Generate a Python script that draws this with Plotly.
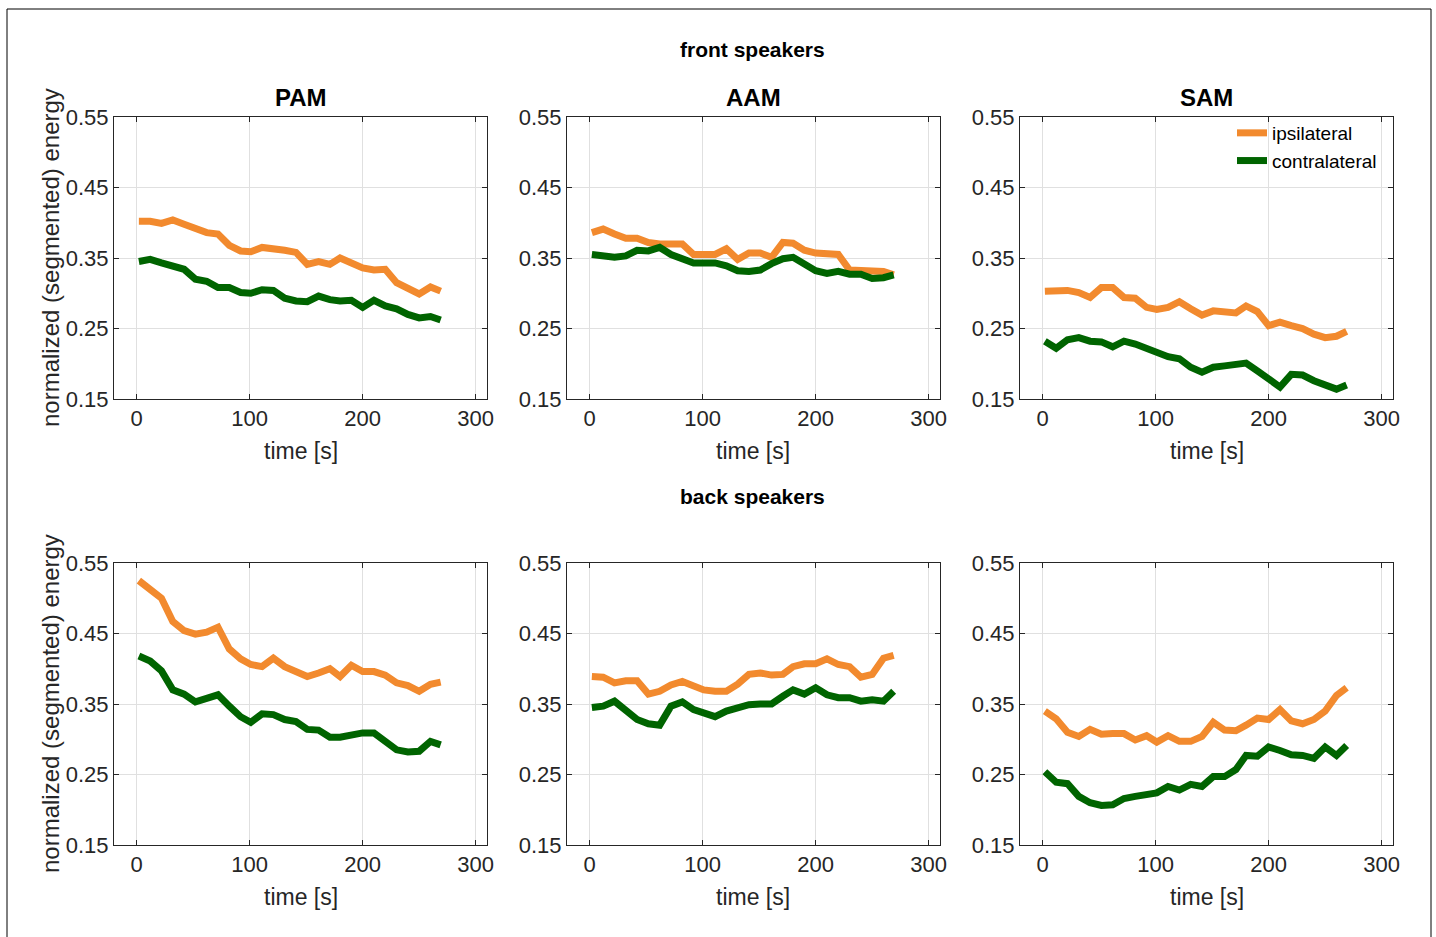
import plotly.graph_objects as go

# segment centre times [s]
time_s = [2, 12, 22, 32, 42, 52, 62, 72, 82, 92, 101, 111, 121, 131,
          141, 151, 161, 171, 180, 190, 200, 210, 220, 230, 240, 250, 260, 269]

methods = ["PAM", "AAM", "SAM"]

# front speakers
front_ipsi_pam = [0.402, 0.402, 0.399, 0.404, 0.398, 0.392, 0.386, 0.384, 0.368, 0.360,
                  0.359, 0.365, 0.364, 0.361, 0.358, 0.341, 0.345, 0.341, 0.350, 0.342,
                  0.336, 0.333, 0.334, 0.315, 0.306, 0.299, 0.309, 0.303]
front_contra_pam = [0.345, 0.348, 0.343, 0.339, 0.334, 0.320, 0.317, 0.308, 0.308, 0.301,
                    0.300, 0.305, 0.304, 0.293, 0.289, 0.288, 0.296, 0.291, 0.289, 0.290,
                    0.280, 0.290, 0.282, 0.278, 0.270, 0.265, 0.267, 0.262]
front_ipsi_aam = [0.386, 0.391, 0.384, 0.378, 0.378, 0.372, 0.370, 0.370, 0.370, 0.355,
                  0.356, 0.355, 0.363, 0.348, 0.357, 0.357, 0.351, 0.372, 0.371, 0.361,
                  0.357, 0.356, 0.355, 0.333, 0.332, 0.330, 0.331, 0.326]
front_contra_aam = [0.355, 0.353, 0.351, 0.353, 0.361, 0.360, 0.365, 0.355, 0.349, 0.343,
                    0.343, 0.343, 0.339, 0.332, 0.331, 0.333, 0.342, 0.349, 0.351, 0.342,
                    0.332, 0.328, 0.331, 0.327, 0.327, 0.321, 0.322, 0.326]
front_ipsi_sam = [0.303, 0.303, 0.304, 0.301, 0.294, 0.308, 0.308, 0.294, 0.293, 0.280,
                  0.277, 0.280, 0.288, 0.278, 0.269, 0.275, 0.274, 0.272, 0.282, 0.274,
                  0.254, 0.259, 0.254, 0.250, 0.242, 0.237, 0.239, 0.246]
front_contra_sam = [0.232, 0.222, 0.234, 0.237, 0.232, 0.231, 0.224, 0.232, 0.228, 0.221,
                    0.216, 0.210, 0.207, 0.195, 0.188, 0.195, 0.197, 0.199, 0.201, 0.190,
                    0.179, 0.167, 0.185, 0.184, 0.176, 0.170, 0.164, 0.170]

# back speakers
back_ipsi_pam = [0.525, 0.511, 0.500, 0.467, 0.454, 0.449, 0.452, 0.459, 0.428, 0.414,
                 0.406, 0.403, 0.415, 0.403, 0.397, 0.389, 0.394, 0.400, 0.389, 0.405,
                 0.396, 0.396, 0.391, 0.380, 0.376, 0.368, 0.378, 0.381]
back_contra_pam = [0.418, 0.411, 0.397, 0.370, 0.364, 0.353, 0.358, 0.363, 0.347, 0.332,
                   0.324, 0.336, 0.335, 0.328, 0.325, 0.314, 0.313, 0.303, 0.303, 0.306,
                   0.309, 0.309, 0.296, 0.285, 0.282, 0.283, 0.297, 0.292]
back_ipsi_aam = [0.389, 0.388, 0.380, 0.383, 0.383, 0.364, 0.368, 0.377, 0.382, 0.375,
                 0.370, 0.368, 0.368, 0.378, 0.392, 0.394, 0.391, 0.392, 0.403, 0.407,
                 0.407, 0.414, 0.406, 0.403, 0.388, 0.392, 0.415, 0.419]
back_contra_aam = [0.345, 0.347, 0.354, 0.341, 0.328, 0.322, 0.320, 0.347, 0.353, 0.342,
                   0.337, 0.332, 0.340, 0.344, 0.349, 0.350, 0.350, 0.361, 0.370, 0.364,
                   0.373, 0.363, 0.359, 0.359, 0.354, 0.356, 0.354, 0.368]
back_ipsi_sam = [0.340, 0.329, 0.310, 0.304, 0.314, 0.307, 0.308, 0.308, 0.299, 0.305,
                 0.296, 0.305, 0.297, 0.297, 0.304, 0.324, 0.313, 0.312, 0.320, 0.330,
                 0.328, 0.342, 0.326, 0.322, 0.328, 0.340, 0.362, 0.373]
back_contra_sam = [0.254, 0.239, 0.237, 0.219, 0.210, 0.206, 0.207, 0.216, 0.219, 0.221,
                   0.224, 0.233, 0.228, 0.236, 0.233, 0.247, 0.247, 0.257, 0.277, 0.276,
                   0.289, 0.284, 0.278, 0.277, 0.273, 0.289, 0.277, 0.291]

x_ticks = [0, 100, 200, 300]
y_ticks = [0.15, 0.25, 0.35, 0.45, 0.55]

ipsi_color = "#F28A2E"
contra_color = "#006400"
text_color = "#262626"
font_family = "Liberation Sans, Arial, sans-serif"

W, H = 1436, 937

rows = [
    ("front speakers", [(front_ipsi_pam, front_contra_pam),
                        (front_ipsi_aam, front_contra_aam),
                        (front_ipsi_sam, front_contra_sam)]),
    ("back speakers", [(back_ipsi_pam, back_contra_pam),
                       (back_ipsi_aam, back_contra_aam),
                       (back_ipsi_sam, back_contra_sam)]),
]

# panel placement in page pixels
col_left = [114, 567, 1020]
panel_w = 373
row_top = [117, 563]
panel_h = 282

fig = go.Figure()
annotations = []

for r, (row_title, panels) in enumerate(rows):
    top = row_top[r]
    bottom = top + panel_h
    ydom = [1 - bottom / H, 1 - top / H]
    for c, (ipsi, contra) in enumerate(panels):
        idx = r * 3 + c + 1
        xname = "xaxis" if idx == 1 else f"xaxis{idx}"
        yname = "yaxis" if idx == 1 else f"yaxis{idx}"
        xref = "x" if idx == 1 else f"x{idx}"
        yref = "y" if idx == 1 else f"y{idx}"
        left = col_left[c]
        xdom = [left / W, (left + panel_w) / W]

        show_leg = (r == 0 and c == 2)
        fig.add_trace(go.Scatter(x=time_s, y=ipsi, mode="lines", name="ipsilateral",
                                 line=dict(color=ipsi_color, width=7),
                                 showlegend=show_leg, xaxis=xref, yaxis=yref))
        fig.add_trace(go.Scatter(x=time_s, y=contra, mode="lines", name="contralateral",
                                 line=dict(color=contra_color, width=7),
                                 showlegend=show_leg, xaxis=xref, yaxis=yref))

        common = dict(showline=True, linecolor=text_color, linewidth=1, mirror="ticks",
                      ticks="inside", ticklen=5, tickcolor=text_color, tickwidth=1,
                      showgrid=True, gridcolor="#e0e0e0", gridwidth=1, zeroline=False,
                      automargin=False,
                      tickfont=dict(family=font_family, size=22, color=text_color))
        fig.update_layout({
            xname: dict(domain=xdom, range=[-20, 310], tickvals=x_ticks,
                        anchor=yref, **common),
            yname: dict(domain=ydom, range=[0.15, 0.55], tickvals=y_ticks,
                        tickformat=".2f", anchor=xref, **common),
        })

        cx = (left + panel_w / 2) / W
        # method title above the front row only
        if r == 0:
            annotations.append(dict(text=f"<b>{methods[c]}</b>", x=cx, y=1 - (top - 19) / H,
                                    xref="paper", yref="paper", showarrow=False,
                                    xanchor="center", yanchor="middle",
                                    font=dict(family=font_family, size=24, color="black")))
        # x-axis title
        annotations.append(dict(text="time [s]", x=cx, y=1 - (bottom + 52) / H,
                                xref="paper", yref="paper", showarrow=False,
                                xanchor="center", yanchor="middle",
                                font=dict(family=font_family, size=23, color=text_color)))
        if c == 0:
            annotations.append(dict(text="normalized (segmented) energy", x=50 / W,
                                    y=1 - (top + panel_h / 2) / H,
                                    xref="paper", yref="paper", showarrow=False,
                                    textangle=-90, xanchor="center", yanchor="middle",
                                    font=dict(family=font_family, size=24, color=text_color)))

    # row heading
    annotations.append(dict(text=f"<b>{row_title}</b>", x=752 / W, y=1 - (top - 67) / H,
                            xref="paper", yref="paper", showarrow=False,
                            xanchor="center", yanchor="middle",
                            font=dict(family=font_family, size=21, color="black")))

fig.update_layout(
    width=W, height=H,
    margin=dict(l=0, r=0, t=0, b=0, pad=0, autoexpand=False),
    paper_bgcolor="white", plot_bgcolor="white",
    annotations=annotations,
    showlegend=True,
    legend=dict(x=1232 / W, y=1 - 114 / H, xanchor="left", yanchor="top",
                bgcolor="rgba(0,0,0,0)", borderwidth=0, tracegroupgap=0,
                font=dict(family=font_family, size=19, color="black")),
    shapes=[dict(type="rect", xref="paper", yref="paper",
                 x0=7 / W, x1=1431 / W, y0=-0.05, y1=1 - 9 / H,
                 line=dict(color="black", width=1), fillcolor="rgba(0,0,0,0)",
                 layer="below")],
)

fig.write_html("out.html")
